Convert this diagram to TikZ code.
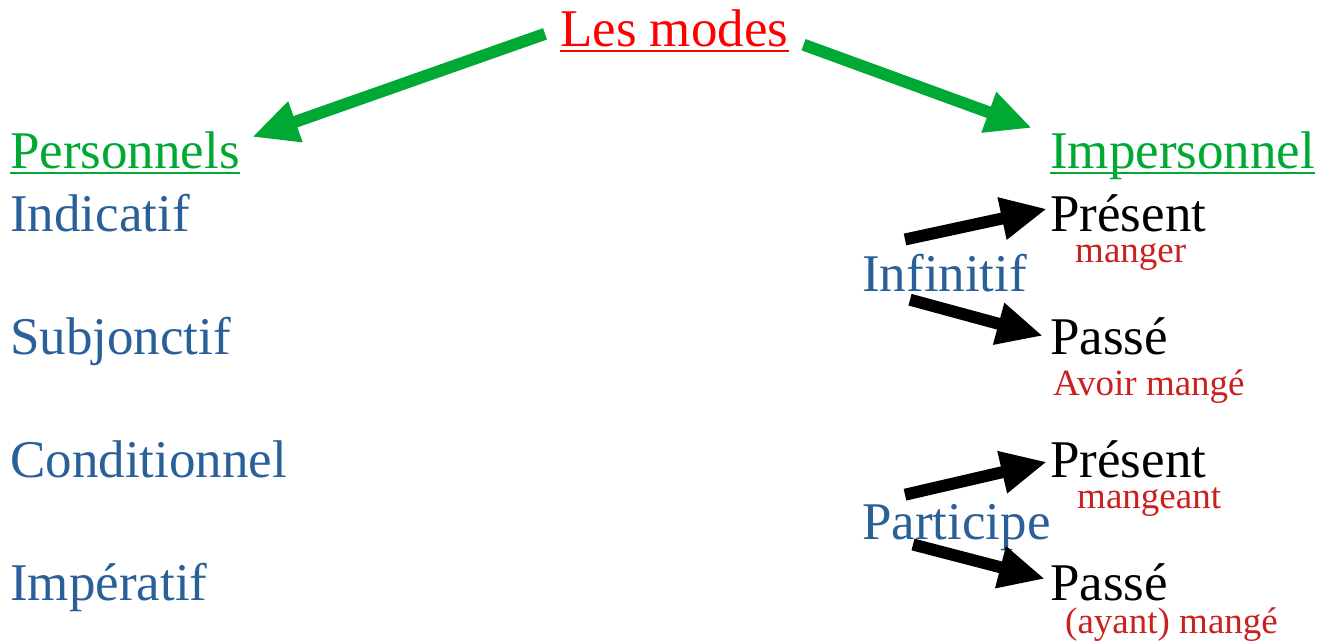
\documentclass[tikz,border=0pt]{standalone}
\usepackage{fontspec}
\setmainfont{Liberation Serif}
\usetikzlibrary{arrows.meta}

\definecolor{modegreen}{HTML}{00A933}
\definecolor{modeblue}{HTML}{2A6099}
\definecolor{modered}{HTML}{FF0000}
\definecolor{exred}{HTML}{C9211E}

\tikzset{
  big/.style={inner sep=0pt, anchor=base west, font=\fontsize{53}{60}\selectfont},
  small/.style={inner sep=0pt, anchor=base west, text=exred, font=\fontsize{37}{42}\selectfont},
  uline/.style={line width=2.5pt},
  fat/.style={line width=12pt, -{Triangle[length=46pt,width=40pt]}},
}

\begin{document}
\begin{tikzpicture}[x=1pt, y=-1pt]
    \useasboundingbox (0,0) rectangle (1327,643);

    \path (560, 46) node [big, text=modered] (modes) {Les modes};
    \draw [uline, modered] ([yshift=-5pt]modes.base west) -- ([yshift=-5pt]modes.base east);

    \path (10, 168) node [big, text=modegreen] (perso) {Personnels};
    \draw [uline, modegreen] ([yshift=-5pt]perso.base west) -- ([yshift=-5pt]perso.base east);
    \path (1050, 168) node [big, text=modegreen] (imperso) {Impersonnel};
    \draw [uline, modegreen] ([yshift=-5pt]imperso.base west) -- ([yshift=-5pt]imperso.base east);

    \draw [fat, modegreen] ([xshift=-15pt,yshift=-6pt]modes.west) -- ([xshift=12pt,yshift=-6pt]perso.north east);
    \draw [fat, modegreen] ([xshift=15pt,yshift=2pt]modes.south east) -- ([xshift=-18pt,yshift=3pt]imperso.north west);

    % modes personnels
    \path (10, 231) node [big, text=modeblue] (indic) {Indicatif};
    \path (10, 354) node [big, text=modeblue] (subj) {Subjonctif};
    \path (10, 477) node [big, text=modeblue] (cond) {Conditionnel};
    \path (10, 600) node [big, text=modeblue] (imper) {Impératif};

    % modes impersonnels
    \path (862, 291) node [big, text=modeblue] (infin) {Infinitif};
    \path (1050, 231) node [big] (infpres) {Présent};
    \path (1075, 262) node [small] (infpresex) {manger};
    \path (1050, 354) node [big] (infpasse) {Passé};
    \path (1053, 395) node [small] (infpasseex) {Avoir mangé};
    \draw [fat] ([xshift=43pt,yshift=14pt]infin.north west) -- ([xshift=-3pt,yshift=4pt]infpres.west);
    \draw [fat] ([xshift=48pt,yshift=-8pt]infin.south west) -- ([xshift=-7pt]infpasse.west);

    \path (862, 539) node [big, text=modeblue] (partic) {Participe};
    \path (1050, 477) node [big] (partpres) {Présent};
    \path (1077, 508) node [small] (partpresex) {mangeant};
    \path (1050, 600) node [big] (partpasse) {Passé};
    \path (1065, 633) node [small] (partpasseex) {(ayant) mangé};
    \draw [fat] ([xshift=43pt,yshift=9pt]partic.north west) -- ([xshift=-3pt,yshift=-3pt]partpres.west);
    \draw [fat] ([xshift=51pt,yshift=6pt]partic.south west) -- ([xshift=-5pt,yshift=3pt]partpasse.west);
\end{tikzpicture}
\end{document}
